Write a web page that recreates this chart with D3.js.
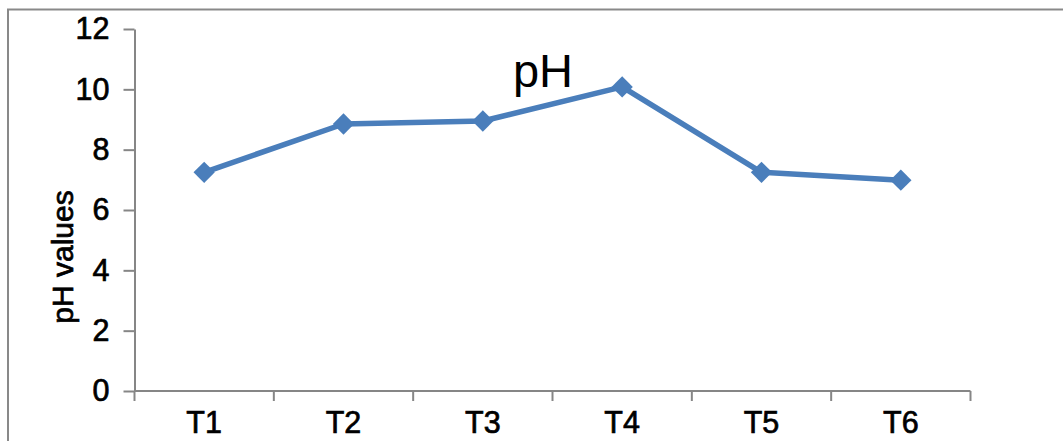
<!DOCTYPE html>
<html>
<head>
<meta charset="utf-8">
<script src="https://cdn.jsdelivr.net/npm/d3@7/dist/d3.min.js"></script>
<style>
html,body{margin:0;padding:0;background:#fff;}
svg{display:block;}
text{fill:#000;}
</style>
</head>
<body>
<svg id="chart" width="1063" height="441"></svg>
<script>
const categories = ["T1","T2","T3","T4","T5","T6"];
const phValues = [7.25, 8.85, 8.95, 10.08, 7.25, 6.99];
const yTicks = [0, 2, 4, 6, 8, 10, 12];
const chartTitle = "pH";
const yLabel = "pH values";

const svg = d3.select("#chart");
const W = 1063, H = 441;
const plot = {left: 134.5, right: 970.5, top: 29, bottom: 391};
const labelFont = "'Liberation Sans', Arial, sans-serif";

function medium(sel) {
  sel.attr("font-family", labelFont).attr("fill", "#000")
     .attr("stroke", "#000").attr("stroke-width", 0.7);
}

// outer chart border
svg.append("rect")
  .attr("x", 8).attr("y", 9.5)
  .attr("width", W + 20).attr("height", H + 20)
  .attr("fill", "none").attr("stroke", "#898989").attr("stroke-width", 2);

const x = d3.scaleBand().domain(categories).range([plot.left, plot.right]).padding(0);
const y = d3.scaleLinear().domain([0, 12]).range([plot.bottom, plot.top]);

const axisColor = "#868686";

// y axis
const yAxis = svg.append("g")
  .attr("transform", `translate(${plot.left},0)`)
  .call(d3.axisLeft(y).tickValues(yTicks).tickSize(11).tickPadding(14).tickSizeOuter(0));
yAxis.select(".domain").attr("stroke", axisColor).attr("stroke-width", 2);
yAxis.selectAll(".tick line").attr("stroke", axisColor).attr("stroke-width", 2);
yAxis.selectAll(".tick text").attr("font-size", 30.5).call(medium);

// x axis
const xAxis = svg.append("g")
  .attr("transform", `translate(0,${plot.bottom})`)
  .call(d3.axisBottom(x).tickSize(0).tickPadding(20));
xAxis.select(".domain").attr("stroke", axisColor).attr("stroke-width", 2)
  .attr("d", `M${plot.left},0H${plot.right}`);
xAxis.selectAll(".tick text").attr("font-size", 30.5).call(medium);
// category boundary ticks
const bounds = categories.map(c => x(c)).concat([x(categories[categories.length-1]) + x.bandwidth()]);
xAxis.selectAll(".bound").data(bounds).enter().append("line")
  .attr("x1", d => d).attr("x2", d => d).attr("y1", 0).attr("y2", 10)
  .attr("stroke", axisColor).attr("stroke-width", 2);

// line
const cx = d => x(d) + x.bandwidth() / 2;
const data = categories.map((c, i) => ({c, v: phValues[i]}));
svg.append("path")
  .datum(data)
  .attr("fill", "none")
  .attr("stroke", "#4a7ebb")
  .attr("stroke-width", 5.5)
  .attr("stroke-linejoin", "round")
  .attr("d", d3.line().x(d => cx(d.c)).y(d => y(d.v)));

// diamond markers
svg.selectAll(".marker").data(data).enter().append("path")
  .attr("transform", d => `translate(${cx(d.c)},${y(d.v)})`)
  .attr("d", d3.symbol().type(d3.symbolDiamond2).size(290))
  .attr("fill", "#4a7ebb");

// title
svg.append("text")
  .attr("x", 543).attr("y", 87)
  .attr("text-anchor", "middle")
  .attr("font-family", labelFont)
  .attr("font-size", 47)
  .text(chartTitle);

// y label
svg.append("text")
  .attr("transform", "translate(73,257) rotate(-90)")
  .attr("text-anchor", "middle")
  .attr("font-size", 30)
  .call(medium)
  .text(yLabel);
</script>
</body>
</html>
